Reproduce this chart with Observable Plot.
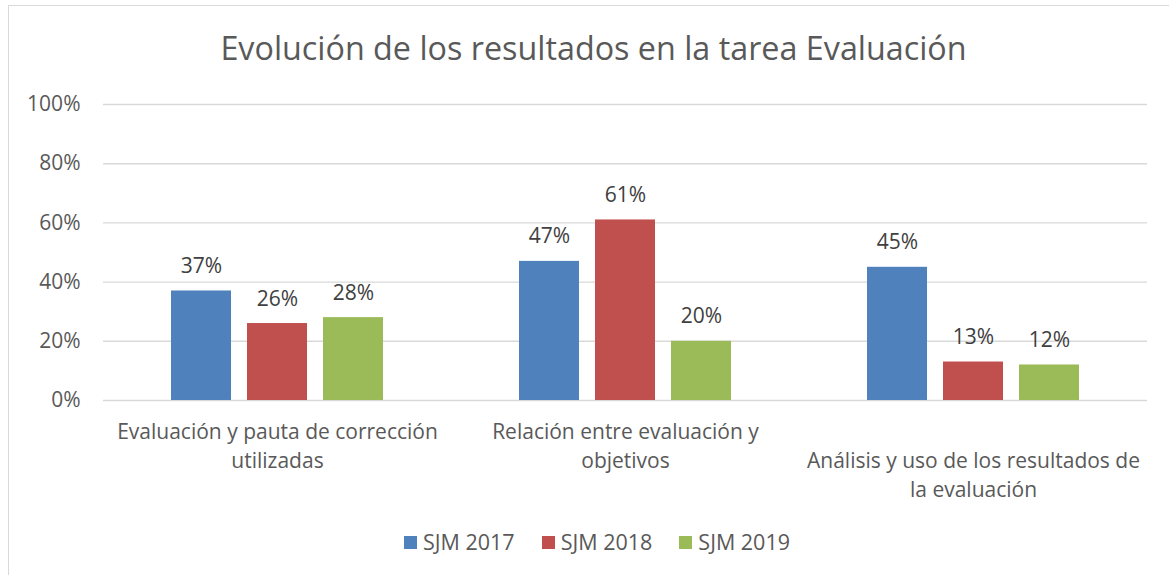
<!DOCTYPE html>
<html>
<head>
<meta charset="utf-8">
<script src="https://cdn.jsdelivr.net/npm/d3@7"></script>
<script src="https://cdn.jsdelivr.net/npm/@observablehq/plot@0.6"></script>
<style>
  html, body { margin: 0; padding: 0; background: #fff; }
  #page { position: relative; width: 1169px; height: 575px; overflow: hidden; font-family: "Open Sans", "Lato", sans-serif; color: #595959; }
  #frame { position: absolute; left: 8px; top: 5px; width: 1200px; height: 600px; border-left: 1.5px solid #D9D9D9; border-top: 1.5px solid #D9D9D9; box-sizing: border-box; }
  #title { position: absolute; left: 0; width: 1187px; top: 31px; text-align: center; font-size: 32.3px; line-height: 32px; white-space: nowrap; }
  #chart { position: absolute; left: 0; top: 80px; }
  #legend { position: absolute; left: 404px; top: 530px; display: flex; align-items: center; font-size: 21.5px; line-height: 24px; white-space: nowrap; }
  .item { display: flex; align-items: center; margin-right: 27px; }
  .sw { width: 13px; height: 13px; margin-right: 6px; }
</style>
</head>
<body>
<div id="page">
  <div id="frame"></div>
  <div id="title">Evolución de los resultados en la tarea Evaluación</div>
  <div id="chart"></div>
  <div id="legend"></div>
</div>
<script>
const categories = [
  "Evaluación y pauta de corrección\nutilizadas",
  "Relación entre evaluación y\nobjetivos",
  "Análisis y uso de los resultados de\nla evaluación"
];
const series = ["SJM 2017", "SJM 2018", "SJM 2019"];
const values2017 = [37, 47, 45];
const values2018 = [26, 61, 13];
const values2019 = [28, 20, 12];
const colors = ["#4F81BD", "#C0504D", "#9BBB59"];
const yTicks = [0, 20, 40, 60, 80, 100];

const seriesValues = [values2017, values2018, values2019];
const data = [];
categories.forEach((c, i) => {
  series.forEach((s, j) => {
    data.push({cat: c, series: s, value: seriesValues[j][i]});
  });
});
const catRows = categories.map((c, i) => ({cat: c, idx: i}));

const FS = 21;
const chart = Plot.plot({
  width: 1169,
  height: 440,
  marginTop: 24,
  marginBottom: 120,
  marginLeft: 102,
  marginRight: 21,
  style: {fontFamily: "'Open Sans', Lato, sans-serif", fontSize: FS + "px", color: "#595959", background: "transparent", overflow: "visible"},
  fx: {domain: categories, padding: 0, axis: null},
  x: {domain: series, paddingInner: 0.208, paddingOuter: 0.868, axis: null},
  y: {domain: [0, 100], ticks: yTicks, tickFormat: d => d + "%", tickSize: 0, tickPadding: 23, label: null, fontSize: 21.5},
  color: {domain: series, range: colors},
  marks: [
    Plot.ruleY(yTicks, {stroke: "#D9D9D9", strokeWidth: 1.4}),
    Plot.barY(data, {fx: "cat", x: "series", y: "value", fill: "series"}),
    Plot.text(data, {fx: "cat", x: "series", y: "value", text: d => d.value + "%", lineAnchor: "bottom", dy: -18, fill: "#404040", fontSize: 21}),
    Plot.text(catRows.filter(d => d.idx < 2), {fx: "cat", text: "cat", frameAnchor: "bottom", lineAnchor: "top", dy: 18, lineHeight: 1.38, fill: "#595959", fontSize: FS}),
    Plot.text(catRows.filter(d => d.idx === 2), {fx: "cat", text: "cat", frameAnchor: "bottom", lineAnchor: "top", dy: 47, lineHeight: 1.38, fill: "#595959", fontSize: FS})
  ]
});
document.getElementById("chart").appendChild(chart);

const legend = document.getElementById("legend");
series.forEach((s, j) => {
  const item = document.createElement("div");
  item.className = "item";
  const sw = document.createElement("div");
  sw.className = "sw";
  sw.style.background = colors[j];
  const lab = document.createElement("span");
  lab.textContent = s;
  item.appendChild(sw);
  item.appendChild(lab);
  legend.appendChild(item);
});
</script>
</body>
</html>
